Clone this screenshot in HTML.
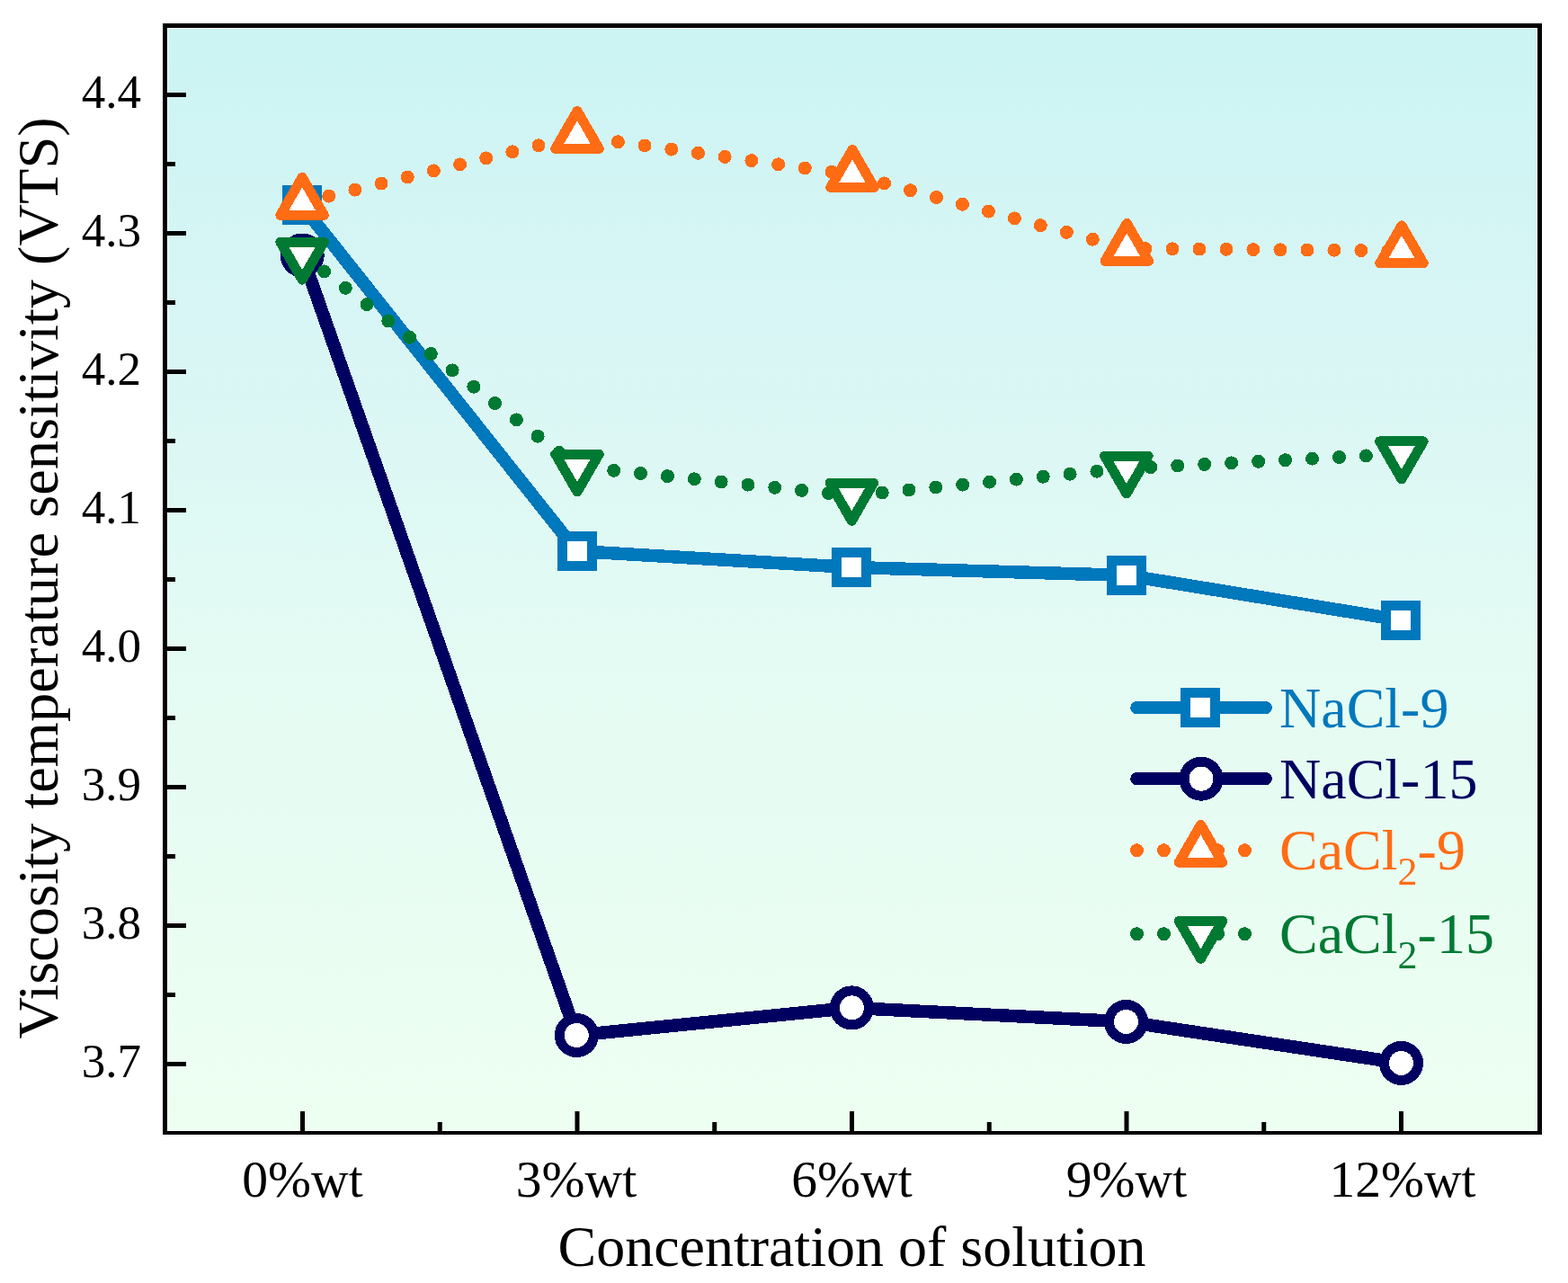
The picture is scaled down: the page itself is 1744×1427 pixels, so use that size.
<!DOCTYPE html>
<html><head><meta charset="utf-8"><title>Viscosity temperature sensitivity chart</title>
<style>
html,body{margin:0;padding:0;background:#fff;}
body{width:1744px;height:1427px;overflow:hidden;}
svg{display:block;}
</style></head>
<body>
<svg width="1744" height="1427" viewBox="0 0 1744 1427" font-family="'Liberation Serif', 'Times New Roman', serif"><defs><linearGradient id="bg" x1="0" y1="0" x2="0" y2="1"><stop offset="0" stop-color="#cbf4f3"/><stop offset="0.29" stop-color="#d9f6f5"/><stop offset="0.58" stop-color="#e4fbf3"/><stop offset="1" stop-color="#edfff1"/></linearGradient></defs><rect x="186" y="31" width="1524" height="1227" fill="#fff"/><rect x="187" y="32" width="1522" height="1225" fill="url(#bg)"/><g shape-rendering="crispEdges"><polyline points="335.50,228.00 641.50,613.00 946.90,631.00 1253.00,639.90 1558.00,689.70" fill="none" stroke="#0078bc" stroke-width="14.5" stroke-linejoin="round"/><rect x="319.00" y="211.50" width="33" height="33" fill="#fff" stroke="#0078bc" stroke-width="11"/><rect x="625.00" y="596.50" width="33" height="33" fill="#fff" stroke="#0078bc" stroke-width="11"/><rect x="930.40" y="614.50" width="33" height="33" fill="#fff" stroke="#0078bc" stroke-width="11"/><rect x="1236.50" y="623.40" width="33" height="33" fill="#fff" stroke="#0078bc" stroke-width="11"/><rect x="1541.50" y="673.20" width="33" height="33" fill="#fff" stroke="#0078bc" stroke-width="11"/><polyline points="336.20,284.00 641.30,1151.50 947.40,1120.90 1252.50,1136.40 1558.50,1182.40" fill="none" stroke="#000060" stroke-width="14.5" stroke-linejoin="round"/><circle cx="336.20" cy="284.00" r="19" fill="#fff" stroke="#000060" stroke-width="11"/><circle cx="641.30" cy="1151.50" r="19" fill="#fff" stroke="#000060" stroke-width="11"/><circle cx="947.40" cy="1120.90" r="19" fill="#fff" stroke="#000060" stroke-width="11"/><circle cx="1252.50" cy="1136.40" r="19" fill="#fff" stroke="#000060" stroke-width="11"/><circle cx="1558.50" cy="1182.40" r="19" fill="#fff" stroke="#000060" stroke-width="11"/><polyline points="336.10,225.30 642.00,151.40 948.00,194.40 1253.30,276.40 1559.00,278.90" fill="none" stroke="#ff6c14" stroke-width="15" stroke-linecap="round" stroke-linejoin="round" stroke-dasharray="0 30" stroke-dashoffset="-0.5"/><polygon points="336.10,197.30 360.35,239.30 311.85,239.30" fill="#fff" stroke="#ff6c14" stroke-width="11" stroke-linejoin="round"/><polygon points="642.00,123.40 666.25,165.40 617.75,165.40" fill="#fff" stroke="#ff6c14" stroke-width="11" stroke-linejoin="round"/><polygon points="948.00,166.40 972.25,208.40 923.75,208.40" fill="#fff" stroke="#ff6c14" stroke-width="11" stroke-linejoin="round"/><polygon points="1253.30,248.40 1277.55,290.40 1229.05,290.40" fill="#fff" stroke="#ff6c14" stroke-width="11" stroke-linejoin="round"/><polygon points="1559.00,250.90 1583.25,292.90 1534.75,292.90" fill="#fff" stroke="#ff6c14" stroke-width="11" stroke-linejoin="round"/><polyline points="336.10,283.10 642.00,519.00" fill="none" stroke="#007a33" stroke-width="15" stroke-linecap="round" stroke-linejoin="round" stroke-dasharray="0 30" stroke-dashoffset="-0.9"/><polyline points="642.00,519.00 947.30,551.30 1252.90,521.00 1558.90,504.90" fill="none" stroke="#007a33" stroke-width="15" stroke-linecap="round" stroke-linejoin="round" stroke-dasharray="0 30" stroke-dashoffset="-11"/><polygon points="311.85,269.10 360.35,269.10 336.10,311.10" fill="#fff" stroke="#007a33" stroke-width="11" stroke-linejoin="round"/><polygon points="617.75,505.00 666.25,505.00 642.00,547.00" fill="#fff" stroke="#007a33" stroke-width="11" stroke-linejoin="round"/><polygon points="923.05,537.30 971.55,537.30 947.30,579.30" fill="#fff" stroke="#007a33" stroke-width="11" stroke-linejoin="round"/><polygon points="1228.65,507.00 1277.15,507.00 1252.90,549.00" fill="#fff" stroke="#007a33" stroke-width="11" stroke-linejoin="round"/><polygon points="1534.65,490.90 1583.15,490.90 1558.90,532.90" fill="#fff" stroke="#007a33" stroke-width="11" stroke-linejoin="round"/></g><g shape-rendering="crispEdges"><line x1="1264.5" y1="787.2" x2="1407.6" y2="787.2" stroke="#0078bc" stroke-width="14.5" stroke-linecap="round"/><rect x="1318.50" y="770.70" width="33" height="33" fill="#fff" stroke="#0078bc" stroke-width="11"/><line x1="1264.5" y1="866.2" x2="1407.6" y2="866.2" stroke="#000060" stroke-width="14.5" stroke-linecap="round"/><circle cx="1336.00" cy="866.20" r="19" fill="#fff" stroke="#000060" stroke-width="11"/><line x1="1264.5" y1="945.8" x2="1407.6" y2="945.8" stroke="#ff6c14" stroke-width="15" stroke-linecap="round" stroke-dasharray="0 30"/><polygon points="1335.50,917.30 1359.75,959.30 1311.25,959.30" fill="#fff" stroke="#ff6c14" stroke-width="11" stroke-linejoin="round"/><line x1="1264.5" y1="1038.7" x2="1407.6" y2="1038.7" stroke="#007a33" stroke-width="15" stroke-linecap="round" stroke-dasharray="0 30"/><polygon points="1311.25,1024.30 1359.75,1024.30 1335.50,1066.30" fill="#fff" stroke="#007a33" stroke-width="11" stroke-linejoin="round"/></g><g><text x="1423" y="809" font-size="64" fill="#0078bc">NaCl-9</text><text x="1423" y="888" font-size="64" fill="#000060">NaCl-15</text><text x="1423" y="966.9" font-size="64" fill="#ff6c14">CaCl<tspan font-size="44" dy="17">2</tspan><tspan dy="-17">-9</tspan></text><text x="1423" y="1059.9" font-size="64" fill="#007a33">CaCl<tspan font-size="44" dy="17">2</tspan><tspan dy="-17">-15</tspan></text></g><rect x="181" y="26" width="1534" height="5" fill="#000"/><rect x="181" y="26" width="5" height="1236" fill="#000"/><rect x="1710" y="26" width="5" height="1236" fill="#000"/><rect x="181" y="1258" width="1534" height="4" fill="#000"/><g><rect x="186" y="103.0" width="21" height="5" fill="#000"/><rect x="186" y="180.0" width="9" height="5" fill="#000"/><rect x="186" y="257.0" width="21" height="5" fill="#000"/><rect x="186" y="334.0" width="9" height="5" fill="#000"/><rect x="186" y="411.0" width="21" height="5" fill="#000"/><rect x="186" y="488.0" width="9" height="5" fill="#000"/><rect x="186" y="565.0" width="21" height="5" fill="#000"/><rect x="186" y="642.0" width="9" height="5" fill="#000"/><rect x="186" y="719.0" width="21" height="5" fill="#000"/><rect x="186" y="796.0" width="9" height="5" fill="#000"/><rect x="186" y="873.0" width="21" height="5" fill="#000"/><rect x="186" y="950.0" width="9" height="5" fill="#000"/><rect x="186" y="1027.0" width="21" height="5" fill="#000"/><rect x="186" y="1104.0" width="9" height="5" fill="#000"/><rect x="186" y="1181.0" width="21" height="5" fill="#000"/><rect x="334.0" y="1236" width="5" height="22" fill="#000"/><rect x="486.75" y="1248" width="5" height="10" fill="#000"/><rect x="639.5" y="1236" width="5" height="22" fill="#000"/><rect x="792.25" y="1248" width="5" height="10" fill="#000"/><rect x="945.0" y="1236" width="5" height="22" fill="#000"/><rect x="1097.75" y="1248" width="5" height="10" fill="#000"/><rect x="1250.5" y="1236" width="5" height="22" fill="#000"/><rect x="1403.25" y="1248" width="5" height="10" fill="#000"/><rect x="1556.0" y="1236" width="5" height="22" fill="#000"/></g><g><text x="157" y="119.8" font-size="53" text-anchor="end">4.4</text><text x="157" y="273.8" font-size="53" text-anchor="end">4.3</text><text x="157" y="427.8" font-size="53" text-anchor="end">4.2</text><text x="157" y="581.8" font-size="53" text-anchor="end">4.1</text><text x="157" y="735.8" font-size="53" text-anchor="end">4.0</text><text x="157" y="889.8" font-size="53" text-anchor="end">3.9</text><text x="157" y="1043.8" font-size="53" text-anchor="end">3.8</text><text x="157" y="1197.8" font-size="53" text-anchor="end">3.7</text><text x="336.5" y="1331" font-size="57.6" text-anchor="middle">0%wt</text><text x="641.0" y="1331" font-size="57.6" text-anchor="middle">3%wt</text><text x="947.5" y="1331" font-size="57.6" text-anchor="middle">6%wt</text><text x="1253.0" y="1331" font-size="57.6" text-anchor="middle">9%wt</text><text x="1560.0" y="1331" font-size="57.6" text-anchor="middle">12%wt</text></g><text x="947.5" y="1407.6" font-size="64" text-anchor="middle">Concentration of solution</text><text transform="translate(64.4 642.8) rotate(-90)" x="0" y="0" font-size="64.45" text-anchor="middle">Viscosity temperature sensitivity (VTS)</text></svg>
</body></html>
